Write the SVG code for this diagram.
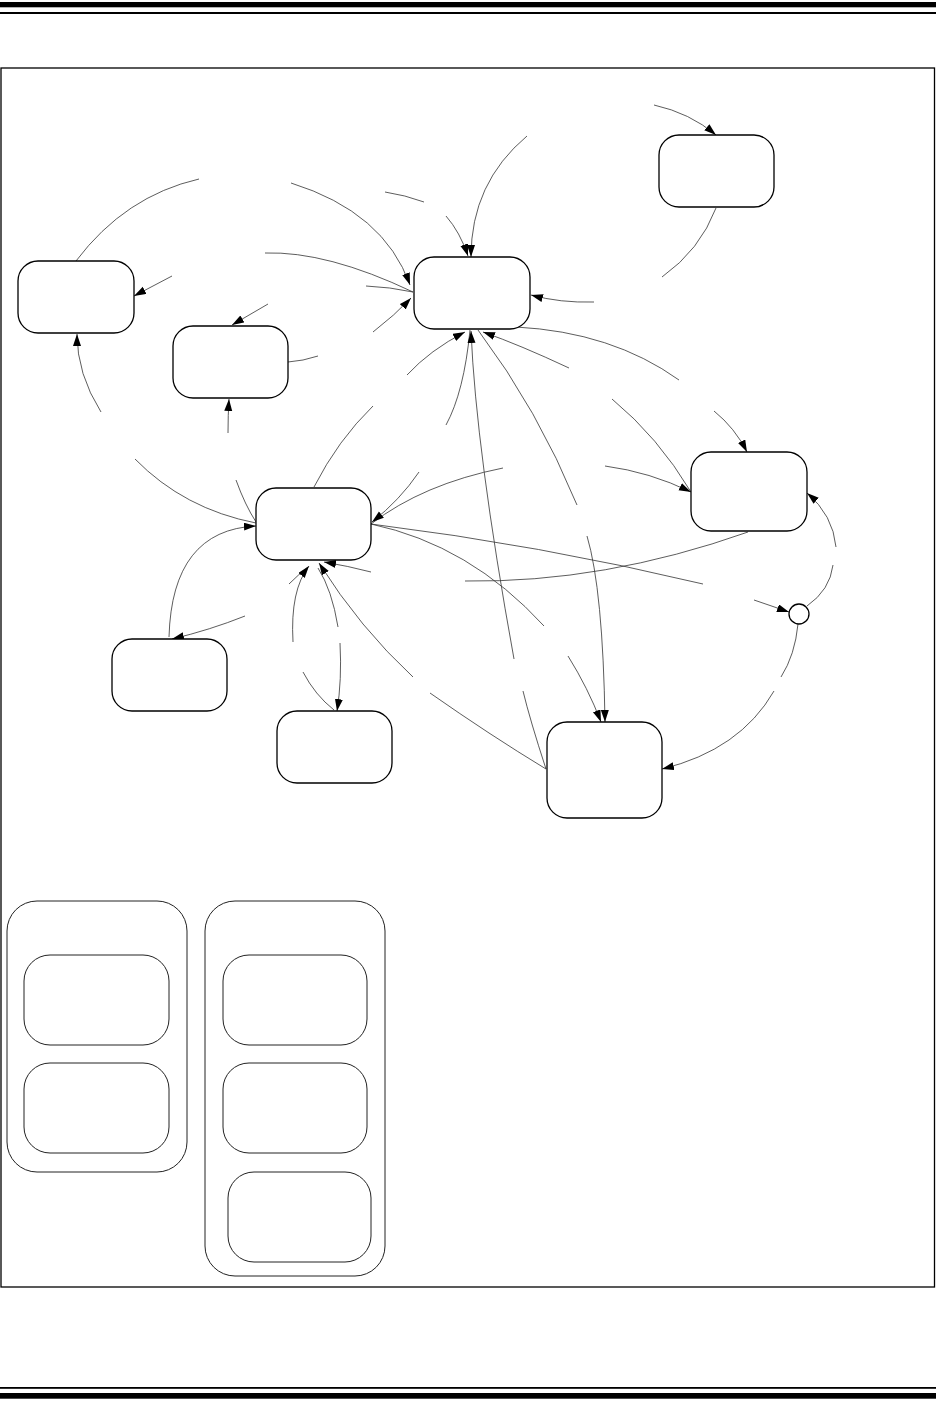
<svg xmlns="http://www.w3.org/2000/svg" width="936" height="1415" viewBox="0 0 936 1415">
<style>
.node{fill:#fff;stroke:#000;stroke-width:1.3}
.sub{fill:#fff;stroke:#222;stroke-width:1}
.c{fill:none;stroke:#333;stroke-width:0.8}
.a{marker-end:url(#ah)}
</style>
<defs>
<marker id="ah" markerUnits="userSpaceOnUse" markerWidth="13" markerHeight="9" refX="12" refY="4" orient="auto">
<path d="M0,0 L12,4 L0,8 z" fill="#000"/>
</marker>
</defs>
<rect width="936" height="1415" fill="#fff"/>
<g id="header">
<rect x="0" y="2" width="936" height="5.3" fill="#000"/>
<rect x="0" y="12" width="936" height="2" fill="#000"/>
</g>
<g id="footer">
<rect x="0" y="1387" width="936" height="1.8" fill="#000"/>
<rect x="0" y="1393" width="936" height="5.7" fill="#000"/>
</g>
<rect id="frame" x="1" y="68" width="933.5" height="1219" fill="none" stroke="#000" stroke-width="1.3"/>
<g id="connectors">
<path class="c" d="M76,261 Q125,196 199,179"/>
<path class="c a" d="M291,183 Q384,212 410,285"/>
<path class="c" d="M265,253 Q327,251 413,292"/>
<path class="c" d="M366,286 Q390,287 413,292"/>
<path class="c a" d="M373,332 Q395,315 411,298"/>
<path class="c" d="M385,192 Q405,195 424,202"/>
<path class="c a" d="M446,216 Q460,232 468,256"/>
<path class="c a" d="M527,136 Q471,183 471,257"/>
<path class="c a" d="M654,105 Q690,113 716,135"/>
<path class="c" d="M716,208 Q700,250 662,277"/>
<path class="c a" d="M594,302 Q560,303 531,295"/>
<path class="c" d="M516,327 Q612,332 679,380"/>
<path class="c a" d="M714,411 Q735,428 747,452"/>
<path class="c" d="M612,399 Q658,437 691,492"/>
<path class="c a" d="M605,466 Q650,472 691,492"/>
<path class="c" d="M503,468 Q423,484 371,524"/>
<path class="c a" d="M419,472 Q400,500 372,522"/>
<path class="c" d="M446,425 Q464,392 470,330"/>
<path class="c" d="M546,769 Q530,720 523,691"/>
<path class="c a" d="M514,659 Q476,450 471,331"/>
<path class="c" d="M577,505 Q538,410 478,330"/>
<path class="c a" d="M569,368 Q520,345 483,332"/>
<path class="c a" d="M407,375 Q430,350 465,332"/>
<path class="c" d="M314,487 Q338,440 373,406"/>
<path class="c a" d="M228,433 Q228,415 229,399"/>
<path class="c" d="M236,480 Q245,505 256,522"/>
<path class="c" d="M135,459 Q184,509 256,523"/>
<path class="c a" d="M101,412 Q77,374 77,334"/>
<path class="c a" d="M172,276 L134,296"/>
<path class="c a" d="M268,304 L232,325"/>
<path class="c" d="M288,362 Q303,361 318,356"/>
<path class="c a" d="M169,637 Q172,530 256,526"/>
<path class="c a" d="M245,616 Q210,630 172,639"/>
<path class="c" d="M289,584 Q298,575 308,567"/>
<path class="c a" d="M293,642 Q290,590 309,566"/>
<path class="c" d="M303,672 Q315,695 334,710"/>
<path class="c" d="M338,627 Q332,590 318,568"/>
<path class="c a" d="M340,643 Q342,680 337,711"/>
<path class="c" d="M748,532 Q604,583 465,581"/>
<path class="c a" d="M371,572 Q348,566 324,562"/>
<path class="c" d="M430,693 Q490,735 546,769"/>
<path class="c a" d="M413,677 Q360,628 319,563"/>
<path class="c" d="M371,524 Q540,545 703,584"/>
<path class="c a" d="M754,600 L789,612"/>
<path class="c" d="M371,524 Q470,545 544,626"/>
<path class="c a" d="M568,656 Q588,688 601,722"/>
<path class="c a" d="M587,536 Q603,590 605,722"/>
<path class="c" d="M807,606 Q830,590 833,565"/>
<path class="c a" d="M836,547 Q833,515 807,493"/>
<path class="c" d="M798,624 Q795,655 781,677"/>
<path class="c a" d="M774,691 Q740,750 662,769"/>
</g>
<g id="nA"><rect class="node" x="18" y="261" width="116" height="72" rx="20"/></g>
<g id="nB"><rect class="node" x="173" y="326" width="115" height="72" rx="20"/></g>
<g id="nC"><rect class="node" x="414" y="257" width="116" height="72" rx="20"/></g>
<g id="nD"><rect class="node" x="659" y="135" width="115" height="72" rx="20"/></g>
<g id="nE"><rect class="node" x="691" y="452" width="116" height="79" rx="20"/></g>
<g id="nF"><rect class="node" x="256" y="488" width="115" height="72" rx="20"/></g>
<g id="nG"><rect class="node" x="112" y="639" width="115" height="72" rx="20"/></g>
<g id="nH"><rect class="node" x="277" y="711" width="115" height="72" rx="20"/></g>
<g id="nI"><rect class="node" x="547" y="722" width="115" height="96" rx="20"/></g>
<g id="nJ"><circle class="node" cx="799" cy="614" r="10"/></g>
<g id="groupL">
<rect class="sub" x="7" y="901" width="180" height="271" rx="30"/>
<rect class="sub" x="24" y="955" width="145" height="90" rx="26"/>
<rect class="sub" x="24" y="1063" width="145" height="90" rx="26"/>
</g>
<g id="groupR">
<rect class="sub" x="205" y="901" width="180" height="375" rx="30"/>
<rect class="sub" x="223" y="955" width="144" height="90" rx="26"/>
<rect class="sub" x="223" y="1063" width="144" height="90" rx="26"/>
<rect class="sub" x="228" y="1172" width="143" height="90" rx="26"/>
</g>
</svg>
